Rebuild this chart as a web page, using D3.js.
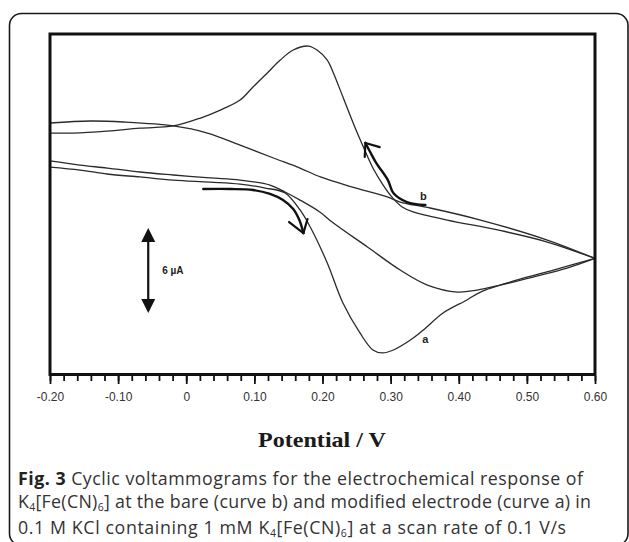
<!DOCTYPE html>
<html>
<head>
<meta charset="utf-8">
<script src="https://cdn.jsdelivr.net/npm/d3@7/dist/d3.min.js"></script>
<style>
  html, body { margin: 0; padding: 0; background: #fff; }
  svg { display: block; }
</style>
</head>
<body>
<svg id="chart" width="629" height="542"></svg>
<script>
// ---- Data (potential in V, current in µA, arbitrary zero) ----
const majorTicks = [-0.2, -0.1, 0, 0.1, 0.2, 0.3, 0.4, 0.5, 0.6];
const tickLabels = ["-0.20", "-0.10", "0", "0.10", "0.20", "0.30", "0.40", "0.50", "0.60"];
const minorTicks = d3.range(-0.2, 0.6001, 0.02);

// curve a (modified electrode): forward and reverse scans
const aForward = [
  [-0.200, 2.75], [-0.156, 2.54], [-0.116, 2.26], [-0.068, 2.05], [-0.019, 1.83],
  [0.035, 1.69], [0.079, 1.55], [0.116, 1.27], [0.145, 0.92], [0.167, -0.28],
  [0.182, -1.48], [0.207, -4.02], [0.230, -6.85], [0.255, -8.96], [0.274, -10.16],
  [0.288, -10.37], [0.304, -10.16], [0.329, -9.46], [0.348, -8.75], [0.377, -7.55],
  [0.412, -6.63], [0.432, -6.07], [0.486, -5.22], [0.539, -4.52], [0.600, -3.70]
];
const aReverse = [
  [0.600, -3.70], [0.530, -2.54], [0.457, -1.69], [0.383, -0.99], [0.333, -0.42],
  [0.317, -0.07], [0.303, 0.57], [0.289, 1.48], [0.274, 2.68], [0.260, 4.16],
  [0.245, 5.86], [0.230, 7.69], [0.216, 9.39], [0.207, 10.30], [0.192, 11.01],
  [0.179, 11.29], [0.157, 11.01], [0.138, 10.30], [0.119, 9.39], [0.098, 8.40],
  [0.079, 7.48], [0.050, 6.77], [0.021, 6.21], [-0.019, 5.65], [-0.068, 5.50],
  [-0.116, 5.29], [-0.166, 5.15], [-0.200, 5.15]
];
// curve b (bare electrode): forward and reverse scans
const bForward = [
  [-0.200, 3.18], [-0.156, 2.89], [-0.116, 2.68], [-0.068, 2.40], [-0.019, 2.19],
  [0.035, 1.98], [0.079, 1.83], [0.123, 1.48], [0.145, 0.99], [0.167, 0.42],
  [0.196, -0.42], [0.216, -1.20], [0.266, -2.89], [0.314, -4.52], [0.354, -5.58],
  [0.398, -6.07], [0.427, -5.93], [0.461, -5.58], [0.509, -5.01], [0.559, -4.38],
  [0.600, -3.70]
];
const bReverse = [
  [0.600, -3.70], [0.530, -2.40], [0.432, -0.99], [0.358, -0.14], [0.314, 0.28],
  [0.295, 0.64], [0.244, 1.34], [0.197, 2.05], [0.167, 2.68], [0.128, 3.39],
  [0.079, 4.30], [0.031, 5.15], [-0.019, 5.65], [-0.092, 5.93], [-0.141, 6.00],
  [-0.200, 5.86]
];

// annotation arrows (same units)
const forwardArrow = [[0.025, 1.20], [0.065, 1.20], [0.098, 1.13], [0.123, 0.85],
  [0.142, 0.42], [0.157, -0.21], [0.166, -0.99], [0.172, -1.91]];
const forwardBarbs = [[0.151, -1.13], [0.178, -0.92]];
const reverseArrow = [[0.351, 0.07], [0.324, 0.28], [0.304, 0.92], [0.296, 1.83],
  [0.279, 3.03], [0.270, 3.81], [0.263, 4.45]];
const reverseBarbs = [[0.284, 4.16], [0.262, 3.46]];
const scaleBar = { v: -0.0558, top: -1.55, bottom: -7.55, label: "6 µA" };
const curveLabels = [{ text: "a", v: 0.351, i: -9.39 }, { text: "b", v: 0.348, i: 0.71 }];

const xTitle = "Potential / V";

// ---- Drawing ----
const svg = d3.select("#chart");
const plot = { left: 50, right: 595, top: 34, bottom: 374.5 };

const x = d3.scaleLinear().domain([-0.2, 0.6]).range([plot.left, plot.right]);
const y = d3.scaleLinear().domain([-11.89, 12.14]).range([plot.bottom, plot.top]);

// outer rounded frame of the figure panel
svg.append("rect")
  .attr("x", 9.5).attr("y", 13.5).attr("width", 618.5).attr("height", 532)
  .attr("rx", 12).attr("ry", 12)
  .attr("fill", "none").attr("stroke", "#1a1a1a").attr("stroke-width", 1.6);

const line = d3.line().x(d => x(d[0])).y(d => y(d[1])).curve(d3.curveCatmullRom.alpha(0.5));

const curveColor = "#2a2a2a";
[aForward, aReverse, bForward, bReverse].forEach(data => {
  svg.append("path").attr("d", line(data))
    .attr("fill", "none").attr("stroke", curveColor).attr("stroke-width", 1.3);
});

// direction arrows
function drawArrow(pts, barbs) {
  svg.append("path").attr("d", line(pts))
    .attr("fill", "none").attr("stroke", "#111").attr("stroke-width", 2.4)
    .attr("stroke-linecap", "round");
  const tip = pts[pts.length - 1];
  barbs.forEach(b => {
    svg.append("line")
      .attr("x1", x(tip[0])).attr("y1", y(tip[1]))
      .attr("x2", x(b[0])).attr("y2", y(b[1]))
      .attr("stroke", "#111").attr("stroke-width", 2.2).attr("stroke-linecap", "round");
  });
}
drawArrow(forwardArrow, forwardBarbs);
drawArrow(reverseArrow, reverseBarbs);

// scale bar (6 µA double arrow)
const sx = x(scaleBar.v), sTop = y(scaleBar.top), sBot = y(scaleBar.bottom);
svg.append("line").attr("x1", sx).attr("x2", sx).attr("y1", sTop + 8).attr("y2", sBot - 8)
  .attr("stroke", "#111").attr("stroke-width", 2.2);
svg.append("path")
  .attr("d", `M${sx},${sTop} L${sx - 7},${sTop + 14} L${sx + 7},${sTop + 14} Z`)
  .attr("fill", "#111");
svg.append("path")
  .attr("d", `M${sx},${sBot} L${sx - 7},${sBot - 14} L${sx + 7},${sBot - 14} Z`)
  .attr("fill", "#111");
svg.append("text").attr("x", sx + 14).attr("y", (sTop + sBot) / 2 + 4)
  .attr("font-family", "Liberation Sans, Arial, sans-serif").attr("font-size", 10)
  .attr("font-weight", "bold").attr("fill", "#222").text(scaleBar.label);

// curve labels
curveLabels.forEach(l => {
  svg.append("text").attr("x", x(l.v)).attr("y", y(l.i) + 4)
    .attr("text-anchor", "middle")
    .attr("font-family", "Liberation Sans, Arial, sans-serif").attr("font-size", 11)
    .attr("font-weight", "bold").attr("fill", "#222").text(l.text);
});

// plot frame
svg.append("rect")
  .attr("x", plot.left).attr("y", plot.top)
  .attr("width", plot.right - plot.left).attr("height", plot.bottom - plot.top)
  .attr("fill", "none").attr("stroke", "#111").attr("stroke-width", 3);

// x axis ticks
const axisY = plot.bottom + 1.5;
const minorAxis = d3.axisBottom(x).tickValues(minorTicks).tickSize(5).tickFormat("");
const gMinor = svg.append("g").attr("transform", `translate(0,${axisY})`).call(minorAxis);
gMinor.select(".domain").remove();
gMinor.selectAll(".tick line").attr("stroke", "#111").attr("stroke-width", 1.8);

const majorAxis = d3.axisBottom(x).tickValues(majorTicks).tickSize(8).tickPadding(8)
  .tickFormat((d, i) => tickLabels[i]);
const gMajor = svg.append("g").attr("transform", `translate(0,${axisY})`).call(majorAxis);
gMajor.select(".domain").remove();
gMajor.selectAll(".tick line").attr("stroke", "#111").attr("stroke-width", 1.8);
gMajor.selectAll(".tick text")
  .attr("font-family", "Liberation Sans, Arial, sans-serif").attr("font-size", 12)
  .attr("fill", "#333");

// axis title
svg.append("text").attr("x", 322).attr("y", 447).attr("text-anchor", "middle")
  .attr("font-family", "Liberation Serif, Times New Roman, serif").attr("font-size", 22)
  .attr("font-weight", "bold").attr("fill", "#1a1a1a")
  .attr("textLength", 128).attr("lengthAdjust", "spacingAndGlyphs").text(xTitle);

// caption
const cap = svg.append("g").attr("font-family", "Open Sans, sans-serif")
  .attr("font-size", 17.8).attr("fill", "#333");
const l1 = cap.append("text").attr("x", 18).attr("y", 484.5)
  .attr("textLength", 565).attr("lengthAdjust", "spacing");
l1.append("tspan").attr("font-weight", "bold").attr("fill", "#222").text("Fig. 3");
l1.append("tspan").text(" Cyclic voltammograms for the electrochemical response of");

function kferro(t) {
  t.append("tspan").text("K");
  t.append("tspan").attr("font-size", 10.5).attr("dy", 3).text("4");
  t.append("tspan").attr("dy", -3).text("[Fe(CN)");
  t.append("tspan").attr("font-size", 10.5).attr("dy", 3).text("6");
  t.append("tspan").attr("dy", -3).text("]");
}
const l2 = cap.append("text").attr("x", 18).attr("y", 508)
  .attr("textLength", 573).attr("lengthAdjust", "spacing");
kferro(l2);
l2.append("tspan").text(" at the bare (curve b) and modified electrode (curve a) in");

const l3 = cap.append("text").attr("x", 18).attr("y", 534)
  .attr("textLength", 548).attr("lengthAdjust", "spacing");
l3.append("tspan").text("0.1 M KCl containing 1 mM ");
kferro(l3);
l3.append("tspan").text(" at a scan rate of 0.1 V/s");
</script>
</body>
</html>
